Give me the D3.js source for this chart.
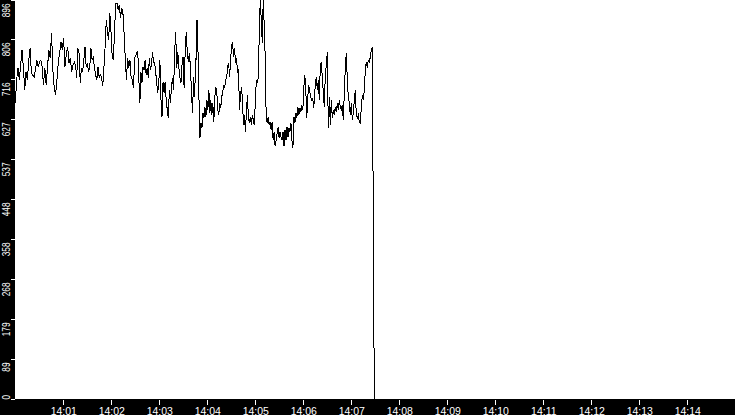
<!DOCTYPE html>
<html>
<head>
<meta charset="utf-8">
<script src="https://cdn.jsdelivr.net/npm/d3@7"></script>
<style>
  body { margin: 0; background: #fff; }
  svg { display: block; }
</style>
</head>
<body>
<div id="plot"></div>
<script>
// tick labels as drawn
const xTicks = ["14:01","14:02","14:03","14:04","14:05","14:06","14:07",
                "14:08","14:09","14:10","14:11","14:12","14:13","14:14"];
const yTickLabels = [0, 89, 179, 268, 358, 448, 537, 627, 716, 806, 896];
const yMax = 896;

// samples in six stretches (seconds after 14:00:00)
const segStart = [0, 76.75, 151.75, 225.9, 301.25, 376.25];
const segEnd   = [75.5, 149.25, 225.5, 300, 375.5, 448.75];

const seg1 = [664,716,743,716,749,783,745,693,734,716,760,787,731,727,722,738,760,745,756,760,
  745,704,743,704,745,783,765,821,738,698,682,716,754,776,801,783,810,745,772,790,754,765,734,749,756,745];
const seg2 = [721,787,776,709,743,734,760,790,745,754,734,743,787,760,765,743,727,716,745,722,
  727,721,702,743,790,850,823,806,866,823,767,760,828,888,888,873,884,855,877,868,821,767,716,765,743,760,721,716,698,765];
const seg3 = [776,779,721,664,734,709,745,738,760,727,743,721,765,738,749,779,756,756,734,709,
  687,711,760,675,633,711,687,711,671,649,631,693,664,700,721,693,776,823,743,779,745,722,709,749,767,
  698,779,823,779,756,776,745,687,642,722,678,765];
const seg4 = [760,850,779,675,586,619,608,642,631,655,633,671,649,693,642,671,637,664,622,678,
  700,689,649,637,664,653,678,687,704,698,716,721,745,754,722,760,795,799,767,787,754,765,734,738,649,
  682,700,671,615,637,600,642,682,633,619,633,615,637,626,615,664];
const seg5 = [716,709,722,821,895,850,799,895,839,767,631,619,633,615,622,604,622,581,600,567,
  581,597,610,586,600,588,581,600,567,604,581,610,588,608,600,619,581,564,633,619,642,631,655,637,653,
  644,660,649,698,727,693,631,678,704,689,678,671,675,653,687,711];
const seg6 = [722,693,716,671,745,756,722,687,655,727,749,779,608,678,615,671,631,649,637,655,
  644,664,649,671,655,649,660,626,687,743,776,716,678,664,637,664,626,642,671,693,637,631,637,622,619,
  655,682,671,693,738,756,743,760,756,767,783,790,396,0];

const width = 735, height = 415;
const left = 15, bottom = 399.5;

const parseHM = d3.timeParse("%H:%M");
const t0 = parseHM("14:00");

let data = [];
[seg1, seg2, seg3, seg4, seg5, seg6].forEach((seg, k) => {
  let step = (segEnd[k] - segStart[k]) / (seg.length - 1);
  seg.forEach((v, i) => {
    data.push({t: new Date(+t0 + (segStart[k] + i * step) * 1000), v: v});
  });
});

let x = d3.scaleTime()
  .domain([t0, parseHM("14:15")])
  .range([left + 0.3, width + 0.3]);

let y = d3.scaleLinear()
  .domain([0, yMax])
  .range([bottom, -0.5]);

let svg = d3.select('#plot').append('svg')
  .attr('width', width).attr('height', height);

svg.append('rect').attr('width', width).attr('height', height).attr('fill', '#000');
svg.append('rect')
  .attr('x', left).attr('y', 0)
  .attr('width', width - left).attr('height', 399)
  .attr('fill', '#fff');

svg.append('clipPath').attr('id', 'clip')
  .append('rect').attr('x', left).attr('y', 0).attr('width', width - left).attr('height', 401);

let line = d3.line().x(d => x(d.t)).y(d => y(d.v));

svg.append('path')
  .datum(data)
  .attr('clip-path', 'url(#clip)')
  .attr('d', line)
  .attr('fill', 'none')
  .attr('stroke', '#000')
  .attr('stroke-width', 1)
  .attr('shape-rendering', 'crispEdges');

// bottom axis
let xAxis = svg.append('g')
  .attr('transform', `translate(0,${bottom})`)
  .call(d3.axisBottom(x)
    .tickValues(xTicks.map(parseHM))
    .tickSize(5)
    .tickFormat(d3.timeFormat('%H:%M')));

xAxis.select('.domain').remove();
xAxis.selectAll('line').attr('stroke', '#fff').attr('shape-rendering', 'crispEdges');
xAxis.selectAll('text')
  .attr('y', 15).attr('dy', null)
  .attr('fill', '#fff')
  .style('font', '10.5px "Liberation Sans", Arial, sans-serif');

// left axis, labels turned on their side
let yAxis = svg.append('g')
  .attr('transform', `translate(${left},0)`)
  .call(d3.axisLeft(y)
    .tickValues(d3.range(yTickLabels.length).map(i => i * yMax / (yTickLabels.length - 1)))
    .tickSize(4)
    .tickFormat((d, i) => yTickLabels[i]));

yAxis.select('.domain').remove();
yAxis.selectAll('.tick')
  .attr('transform', d => `translate(0,${Math.max(y(d), 0.5)})`);
yAxis.selectAll('line').attr('stroke', '#fff').attr('shape-rendering', 'crispEdges');
yAxis.selectAll('text')
  .attr('fill', '#fff')
  .attr('dy', null)
  .attr('transform', 'rotate(-90)')
  .attr('y', -5)
  .attr('x', (d, i) => i === 0 ? 0 : -3)
  .attr('text-anchor', (d, i) => i === 0 ? 'start' : 'end')
  .attr('textLength', (d, i) => String(yTickLabels[i]).length * 4.6)
  .attr('lengthAdjust', 'spacingAndGlyphs')
  .style('font', '11px "Liberation Sans", Arial, sans-serif');
</script>
</body>
</html>
